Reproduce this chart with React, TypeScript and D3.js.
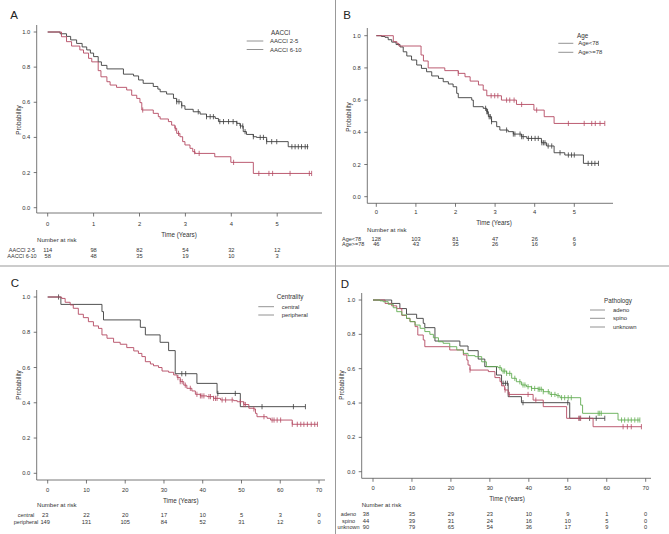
import React from "react";
import * as d3 from "d3";

// ---------- DATA ----------
const yTicks = [0, 0.2, 0.4, 0.6, 0.8, 1.0];
const yearTicks = [0, 1, 2, 3, 4, 5];
const monthTicks = [0, 10, 20, 30, 40, 50, 60, 70];

// Panel A : AACCI
const aGroups = ["AACCI 2-5", "AACCI 6-10"];
const aRisk25 = [114, 98, 82, 54, 32, 12];
const aRisk610 = [58, 48, 35, 19, 10, 3];
const a25Time = [0.27,0.41,0.5,0.63,0.75,0.85,0.93,1.0,1.1,1.17,1.29,1.65,1.87,1.98,2.08,2.3,2.4,2.45,2.59,2.74,2.81,2.92,2.99,3.17,3.32,3.46,3.65,3.72,4.12,4.19,4.26,4.33,4.48,4.55,4.77,5.24];
const a25Surv = [0.99,0.975,0.955,0.935,0.915,0.898,0.88,0.86,0.83,0.81,0.79,0.76,0.75,0.727,0.708,0.69,0.675,0.66,0.647,0.622,0.603,0.58,0.56,0.546,0.533,0.518,0.508,0.49,0.48,0.465,0.433,0.417,0.404,0.4,0.376,0.347];
const a25Cens = [2.81,2.86,2.92,3.28,3.46,3.54,3.61,3.75,3.83,3.94,4.04,4.12,4.2,4.25,4.3,4.48,4.63,4.7,4.77,4.88,4.99,5.32,5.39,5.46,5.53,5.61,5.66];
const a25End = 5.68;
const a610Time = [0.3,0.41,0.52,0.7,0.78,0.89,0.96,1.1,1.16,1.29,1.36,1.5,1.72,1.83,1.94,2.01,2.05,2.3,2.41,2.45,2.63,2.7,2.77,2.81,2.88,2.94,2.99,3.1,3.16,3.21,3.64,3.99,4.48];
const a610Surv = [0.973,0.945,0.92,0.898,0.88,0.85,0.83,0.78,0.745,0.717,0.698,0.685,0.67,0.64,0.622,0.598,0.556,0.537,0.518,0.505,0.49,0.47,0.452,0.423,0.404,0.376,0.357,0.338,0.319,0.309,0.29,0.258,0.195];
const a610Cens = [2.07,2.78,2.85,3.2,3.3,4.05,4.6,4.82,4.9,5.28,5.7,5.75];
const a610End = 5.75;

// Panel B : Age
const bGroups = ["Age<78", "Age>=78"];
const bRiskLt = [128, 103, 81, 47, 26, 6];
const bRiskGe = [46, 43, 35, 26, 16, 9];
const bLtTime = [0.13,0.22,0.3,0.39,0.5,0.6,0.68,0.77,0.89,1.02,1.14,1.27,1.4,1.57,1.69,1.82,1.94,2.03,2.07,2.41,2.45,2.7,2.79,2.83,2.91,3.04,3.12,3.33,3.46,3.67,3.8,4.17,4.3,4.49,4.76,5.23];
const bLtSurv = [0.995,0.99,0.975,0.96,0.945,0.93,0.9,0.874,0.849,0.818,0.797,0.776,0.75,0.735,0.714,0.7,0.683,0.642,0.615,0.6,0.559,0.549,0.528,0.497,0.466,0.435,0.414,0.404,0.389,0.373,0.362,0.335,0.315,0.273,0.259,0.207];
const bLtCens = [2.76,2.79,2.81,2.85,2.88,2.91,3.29,3.46,3.5,3.63,3.67,3.71,3.84,3.92,4.01,4.09,4.18,4.22,4.26,4.34,4.43,4.64,4.85,4.93,5.0,5.35,5.44,5.52,5.61];
const bLtEnd = 5.61;
const bGeTime = [0.43,0.52,0.57,1.13,1.19,1.31,1.73,2.07,2.24,2.37,2.58,2.7,2.79,3.16,3.54,3.98,4.24,4.49];
const bGeSurv = [0.963,0.952,0.936,0.88,0.843,0.8,0.783,0.766,0.745,0.718,0.694,0.662,0.627,0.6,0.573,0.538,0.497,0.455];
const bGeCens = [2.07,2.9,2.99,3.07,3.29,3.37,3.48,3.67,4.05,4.85,5.25,5.44,5.53,5.65,5.77];
const bGeEnd = 5.77;

// Panel C : Centrality
const cGroups = ["central", "peripheral"];
const cRiskCentral = [23, 22, 20, 17, 10, 5, 3, 0];
const cRiskPeripheral = [149, 131, 105, 84, 52, 31, 12, 0];
const cCenTime = [3.4,14,14.4,23.9,25.2,29,31.2,32.9,38.5,43.7,49.7];
const cCenSurv = [0.958,0.917,0.87,0.828,0.785,0.743,0.696,0.565,0.51,0.453,0.378];
const cCenCens = [2.8,34.6,35.6,43.9,48.4,55.3,63.4,66.5];
const cCenEnd = 66.5;
const cPerTime = [3.6,4.5,5.8,6.6,7.9,9.2,10.5,11.8,13.1,14,15.3,17,18.7,20.4,22.2,23.4,24.3,25.2,26.5,27.3,28.6,29.5,31.2,32.5,33.4,34.2,35.1,35.9,37.2,38.1,39.4,41.1,42.8,44.6,48,48.9,50.6,51.9,53.2,53.6,54,56.6,57.5,63.1];
const cPerSurv = [0.992,0.97,0.955,0.936,0.902,0.883,0.86,0.836,0.822,0.785,0.766,0.743,0.732,0.713,0.694,0.68,0.662,0.633,0.62,0.61,0.6,0.58,0.573,0.558,0.543,0.52,0.5,0.482,0.467,0.448,0.439,0.435,0.425,0.416,0.412,0.406,0.39,0.369,0.365,0.34,0.321,0.312,0.302,0.278];
const cPerCens = [33.6,34.2,34.7,35.5,36.8,38.5,39.4,39.8,40.3,41.6,42,42.8,43.3,43.7,45,45.9,47.6,49.7,50.6,51,53.2,55.8,57.9,58.4,59.2,60.1,63.1,64.4,65.3,66.1,67,68,68.9,69.6];
const cPerEnd = 69.6;

// Panel D : Pathology
const dGroups = ["adeno", "spino", "unknown"];
const dRiskAdeno = [38, 35, 29, 23, 10, 9, 1, 0];
const dRiskSpino = [44, 39, 31, 24, 16, 10, 5, 0];
const dRiskUnknown = [90, 79, 65, 54, 36, 17, 9, 0];
const dAdTime = [4.8,6.9,8.6,11.2,12.9,13.3,15.9,22.3,24.4,27,28.7,31.7,33,34.7,38.1,50.5];
const dAdSurv = [0.98,0.95,0.917,0.893,0.864,0.839,0.761,0.732,0.705,0.656,0.612,0.563,0.515,0.437,0.402,0.311];
const dAdCens = [33.4,34,34.5,38.5,50,53.1,55.6,57.3,59.5];
const dAdEnd = 59.5;
const dSpTime = [3.1,4.8,6.1,7.4,8.6,9.5,10.8,11.5,12.9,13.3,19.7,23.2,24.1,24.4,24.9,29.6,31.3,32.6,33,33.8,34.7,41.1,43.7,49.7,56.5];
const dSpSurv = [0.98,0.966,0.95,0.91,0.893,0.874,0.845,0.796,0.767,0.728,0.709,0.68,0.65,0.621,0.592,0.583,0.548,0.524,0.5,0.476,0.45,0.417,0.379,0.311,0.262];
const dSpCens = [24.9,33.9,35,39.8,41.8,52.8,53.3,64.2,65.3,66.3,68.9];
const dSpEnd = 68.9;
const dUnTime = [1.8,2.6,3.9,5.2,6.1,7.4,8.6,9.5,10.8,12.1,13.3,14.6,15.5,16.8,18,19.7,21.5,23.2,24.4,26.2,27.9,29.1,32.1,33,34.3,35.6,36.8,38.1,39.4,40.7,42.4,43.7,45.4,47.1,48,53.3,53.8,62.9];
const dUnSurv = [0.995,0.99,0.975,0.955,0.932,0.913,0.893,0.874,0.854,0.835,0.816,0.8,0.78,0.757,0.748,0.728,0.709,0.689,0.676,0.67,0.64,0.612,0.606,0.586,0.573,0.544,0.524,0.505,0.495,0.485,0.48,0.466,0.45,0.443,0.431,0.388,0.34,0.301];
const dUnCens = [32.6,33.4,33.8,34.3,35.1,36.4,37.7,38.5,39,39.8,40.7,41.5,42.4,42.8,43.2,43.7,45,45.8,46.7,47.5,48.4,49.2,50.1,50.9,57.8,58.2,58.6,63.8,64.6,65.5,66.3,67.2,68,68.5];
const dUnEnd = 68.5;

// ---------- STYLE ----------
const BLACK = "#3d3d3d";
const RED = "#b44a62";
const GREEN = "#62ad52";
const FONT = "'Liberation Sans', Arial, sans-serif";

type Series = { t: number[]; s: number[]; c: number[]; end: number; color: string };

interface PanelCfg {
  letter: string; letterX: number; letterY: number;
  xTicks: number[]; xR: [number, number]; yR: [number, number];
  yAxisX: number; yAxisTop: number; xAxisY: number; xAxisEnd: number;
  tickLabY: number; titleX: number; titleY: number;
  riskTitleX: number; riskTitleY: number; riskRowsY: number[];
  riskLabelX: number; riskLabelAnchor: "start" | "middle" | "end";
  riskFirstShift: number;
  legendTitle: string; legTitleX: number; legTitleY: number;
  legLine: [number, number]; legRowsY: number[]; legLabelX: number;
  ylabX: number; ylabY: number;
  groups: string[]; risk: number[][]; series: Series[];
}

const panels: PanelCfg[] = [
  {
    letter: "A", letterX: 14, letterY: 15,
    xTicks: yearTicks, xR: [47.7, 277.2], yR: [207.7, 32],
    yAxisX: 36.7, yAxisTop: 25, xAxisY: 213, xAxisEnd: 322,
    tickLabY: 224, titleX: 179, titleY: 234.5,
    riskTitleX: 37, riskTitleY: 239.5, riskRowsY: [249.5, 255.5],
    riskLabelX: 22, riskLabelAnchor: "middle", riskFirstShift: 0,
    legendTitle: "AACCI", legTitleX: 271, legTitleY: 32,
    legLine: [246.7, 263.3], legRowsY: [41, 49.5], legLabelX: 270,
    ylabX: 18, ylabY: 120,
    groups: aGroups, risk: [aRisk25, aRisk610],
    series: [
      { t: a25Time, s: a25Surv, c: a25Cens, end: a25End, color: BLACK },
      { t: a610Time, s: a610Surv, c: a610Cens, end: a610End, color: RED },
    ],
  },
  {
    letter: "B", letterX: 347, letterY: 15,
    xTicks: yearTicks, xR: [376.3, 574.3], yR: [196.7, 35.7],
    yAxisX: 367.3, yAxisTop: 28, xAxisY: 203.3, xAxisEnd: 613,
    tickLabY: 211.7, titleX: 494, titleY: 222.7,
    riskTitleX: 367, riskTitleY: 229, riskRowsY: [238.7, 244.3],
    riskLabelX: 342, riskLabelAnchor: "start", riskFirstShift: 0,
    legendTitle: "Age", legTitleX: 577, legTitleY: 35.7,
    legLine: [558.3, 573.3], legRowsY: [43.3, 52.3], legLabelX: 578.3,
    ylabX: 348, ylabY: 117,
    groups: bGroups, risk: [bRiskLt, bRiskGe],
    series: [
      { t: bLtTime, s: bLtSurv, c: bLtCens, end: bLtEnd, color: BLACK },
      { t: bGeTime, s: bGeSurv, c: bGeCens, end: bGeEnd, color: RED },
    ],
  },
  {
    letter: "C", letterX: 15, letterY: 283,
    xTicks: monthTicks, xR: [47.7, 319], yR: [473.3, 297],
    yAxisX: 36.7, yAxisTop: 290, xAxisY: 480, xAxisEnd: 325,
    tickLabY: 490, titleX: 180.7, titleY: 500,
    riskTitleX: 37, riskTitleY: 504.3, riskRowsY: [515, 521.7],
    riskLabelX: 26, riskLabelAnchor: "middle", riskFirstShift: -2.5,
    legendTitle: "Centrality", legTitleX: 276.7, legTitleY: 296.7,
    legLine: [258.3, 274], legRowsY: [306.7, 315], legLabelX: 281.7,
    ylabX: 18, ylabY: 385,
    groups: cGroups, risk: [cRiskCentral, cRiskPeripheral],
    series: [
      { t: cCenTime, s: cCenSurv, c: cCenCens, end: cCenEnd, color: BLACK },
      { t: cPerTime, s: cPerSurv, c: cPerCens, end: cPerEnd, color: RED },
    ],
  },
  {
    letter: "D", letterX: 345, letterY: 284,
    xTicks: monthTicks, xR: [373, 645.7], yR: [471.7, 300],
    yAxisX: 361.7, yAxisTop: 293, xAxisY: 478.3, xAxisEnd: 651,
    tickLabY: 487.7, titleX: 507, titleY: 498.3,
    riskTitleX: 361.7, riskTitleY: 504.3, riskRowsY: [514.3, 520.7, 527],
    riskLabelX: 348.5, riskLabelAnchor: "middle", riskFirstShift: -7,
    legendTitle: "Pathology", legTitleX: 604, legTitleY: 300,
    legLine: [590, 605], legRowsY: [310, 318.3, 327], legLabelX: 613,
    ylabX: 341.7, ylabY: 385,
    groups: dGroups, risk: [dRiskAdeno, dRiskSpino, dRiskUnknown],
    series: [
      { t: dAdTime, s: dAdSurv, c: dAdCens, end: dAdEnd, color: BLACK },
      { t: dSpTime, s: dSpSurv, c: dSpCens, end: dSpEnd, color: RED },
      { t: dUnTime, s: dUnSurv, c: dUnCens, end: dUnEnd, color: GREEN },
    ],
  },
];

const FS = 6.3;

function Panel({ p }: { p: PanelCfg }) {
  const xMax = p.xTicks[p.xTicks.length - 1];
  const x = d3.scaleLinear().domain([0, xMax]).range(p.xR);
  const y = d3.scaleLinear().domain([0, 1]).range(p.yR);
  const line = d3
    .line<[number, number]>()
    .x((d) => x(d[0]))
    .y((d) => y(d[1]))
    .curve(d3.curveStepAfter);
  const survAt = (sr: Series, t: number) => {
    let v = 1;
    sr.t.forEach((ti, i) => {
      if (ti <= t) v = sr.s[i];
    });
    return v;
  };
  return (
    <g fontFamily={FONT}>
      <text x={p.letterX} y={p.letterY} fontSize={11.5} dominantBaseline="central" textAnchor="middle" fill="#222">
        {p.letter}
      </text>
      {/* axes */}
      <line x1={p.yAxisX} x2={p.yAxisX} y1={p.yAxisTop} y2={p.xAxisY} stroke="#555" strokeWidth={0.8} />
      <line x1={p.yAxisX} x2={p.xAxisEnd} y1={p.xAxisY} y2={p.xAxisY} stroke="#555" strokeWidth={0.8} />
      {yTicks.map((v) => (
        <g key={"y" + v}>
          <line x1={p.yAxisX - 3} x2={p.yAxisX} y1={y(v)} y2={y(v)} stroke="#555" strokeWidth={0.8} />
          <text x={p.yAxisX - 6.5} y={y(v)} fontSize={FS - 0.5} textAnchor="end" dominantBaseline="central" fill="#333">
            {v.toFixed(1)}
          </text>
        </g>
      ))}
      {p.xTicks.map((v) => (
        <g key={"x" + v}>
          <line x1={x(v)} x2={x(v)} y1={p.xAxisY} y2={p.xAxisY + 3.5} stroke="#555" strokeWidth={0.8} />
          <text x={x(v)} y={p.tickLabY} fontSize={FS - 0.5} textAnchor="middle" dominantBaseline="central" fill="#333">
            {v}
          </text>
        </g>
      ))}
      <text x={p.titleX} y={p.titleY} fontSize={FS} textAnchor="middle" dominantBaseline="central" fill="#333">
        Time (Years)
      </text>
      <text
        transform={`translate(${p.ylabX},${p.ylabY}) rotate(-90)`}
        fontSize={FS}
        textAnchor="middle"
        dominantBaseline="central"
        fill="#333"
      >
        Probability
      </text>
      {/* curves */}
      {p.series.map((sr, i) => {
        const pts: [number, number][] = [[0, 1]];
        sr.t.forEach((t, j) => pts.push([t, sr.s[j]]));
        pts.push([sr.end, sr.s[sr.s.length - 1]]);
        return (
          <g key={"s" + i}>
            <path d={line(pts) || ""} fill="none" stroke={sr.color} strokeWidth={0.9} />
            {sr.c.map((ct, k) => {
              const cy = y(survAt(sr, ct));
              return (
                <line key={k} x1={x(ct)} x2={x(ct)} y1={cy - 2.6} y2={cy + 2.6} stroke={sr.color} strokeWidth={0.8} />
              );
            })}
          </g>
        );
      })}
      {/* legend */}
      <text x={p.legTitleX} y={p.legTitleY} fontSize={FS} dominantBaseline="central" fill="#333">
        {p.legendTitle}
      </text>
      {p.groups.map((g, i) => (
        <g key={"l" + i}>
          <line x1={p.legLine[0]} x2={p.legLine[1]} y1={p.legRowsY[i]} y2={p.legRowsY[i]} stroke="#777" strokeWidth={0.8} />
          <text x={p.legLabelX} y={p.legRowsY[i]} fontSize={FS - 0.4} dominantBaseline="central" fill="#333">
            {g}
          </text>
        </g>
      ))}
      {/* risk table */}
      <text x={p.riskTitleX} y={p.riskTitleY} fontSize={FS - 0.2} dominantBaseline="central" fill="#333">
        Number at risk
      </text>
      {p.groups.map((g, i) => (
        <g key={"r" + i}>
          <text x={p.riskLabelX} y={p.riskRowsY[i]} fontSize={FS - 0.8} textAnchor={p.riskLabelAnchor} dominantBaseline="central" fill="#333">
            {g}
          </text>
          {p.risk[i].map((n, k) => (
            <text
              key={k}
              x={x(p.xTicks[k]) + (k === 0 ? p.riskFirstShift : 0)}
              y={p.riskRowsY[i]}
              fontSize={FS - 0.6}
              textAnchor="middle"
              dominantBaseline="central"
              fill="#333"
            >
              {n}
            </text>
          ))}
        </g>
      ))}
    </g>
  );
}

export default function App() {
  return (
    <svg
      width={669}
      height={534}
      style={{ position: "absolute", left: 0, top: 0, background: "#fff" }}
    >
      <rect x={0} y={0} width={669} height={534} fill="#fff" />
      <line x1={0} x2={669} y1={266} y2={266} stroke="#999" strokeWidth={1} />
      <line x1={335.5} x2={335.5} y1={0} y2={534} stroke="#999" strokeWidth={1} />
      {panels.map((p) => (
        <Panel key={p.letter} p={p} />
      ))}
    </svg>
  );
}
